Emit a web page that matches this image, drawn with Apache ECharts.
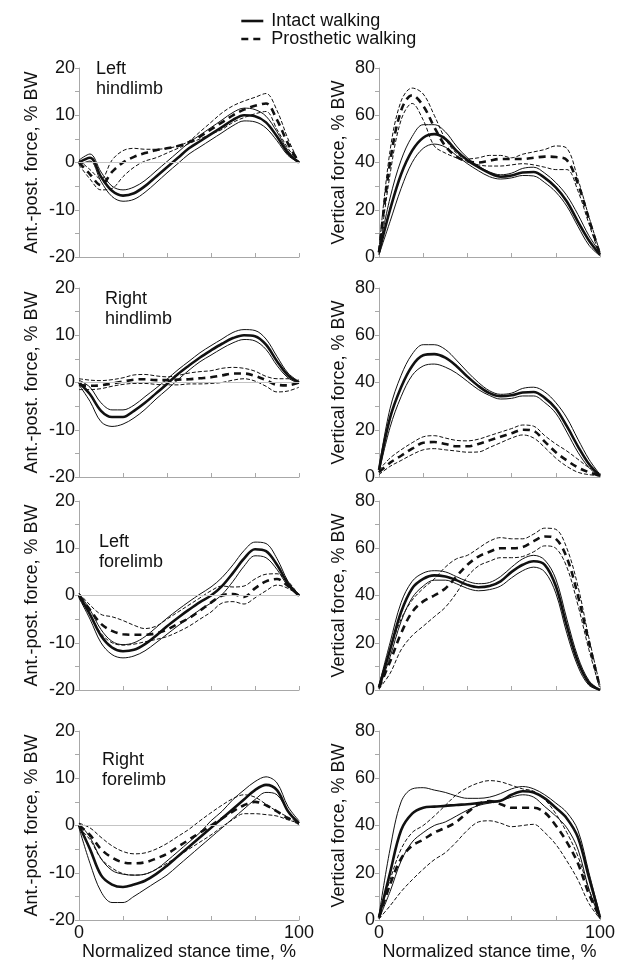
<!DOCTYPE html>
<html>
<head>
<meta charset="utf-8">
<script src="https://cdn.jsdelivr.net/npm/echarts@6/dist/echarts.min.js"></script>
<style>
  html, body { margin: 0; padding: 0; background: #fff; }
  #chart { width: 636px; height: 980px; }
</style>
</head>
<body>
<div id="chart"></div>
<script>
/* Normalized stance time, % (shared x samples) */
const STANCE = [0, 5, 10, 15, 20, 25, 30, 35, 40, 45, 50, 55, 60, 65, 70, 75, 80, 85, 90, 95, 100];

/* Left hindlimb, ant.-post. force (% BW): mean, mean+SD, mean-SD */
const lhApIntMean = [0, 1, -3, -6, -7, -6.5, -5, -3, -1, 1, 3, 4.5, 6, 7.5, 9, 10, 9.8, 8.5, 5.5, 2, 0];
const lhApIntUp   = [0.5, 1.8, -2, -5, -5.8, -5.2, -3.8, -1.8, 0.2, 2.2, 4.2, 5.8, 7.4, 9, 10.6, 11.5, 11.2, 9.8, 6.5, 2.5, 0];
const lhApIntLo   = [-0.5, 0.3, -4, -7.2, -8.2, -7.8, -6.3, -4.3, -2.2, -0.2, 1.8, 3.3, 4.8, 6.3, 7.8, 8.8, 8.6, 7.3, 4.6, 1.5, 0];
const lhApProMean = [0, -2.5, -4.8, -2, 0, 1.2, 2, 2.6, 3, 3.5, 4.3, 5.5, 7, 8.5, 10, 11.2, 12, 12.5, 9, 4, 0];
const lhApProUp   = [0.5, -1.5, -3.5, 0.5, 2.5, 3, 2.8, 2.8, 3, 3.5, 4.5, 6.5, 8.5, 10.5, 12, 13, 13.8, 14.6, 11, 5, 0];
const lhApProLo   = [-0.5, -3.5, -5.8, -5.5, -3, -1, 0.3, 1, 2, 3, 4, 5, 6, 7, 8.5, 9.5, 10.3, 10.8, 7, 3, 0];

/* Left hindlimb, vertical force (% BW) */
const lhVtIntMean = [2, 20, 35, 45, 50.5, 52, 50, 45, 41, 38, 35.5, 34, 34.5, 35.8, 36, 33.5, 29.5, 23.5, 15, 7, 1];
const lhVtIntUp   = [3, 25, 41, 51, 56, 56, 53, 47, 42, 38.5, 36, 34.8, 35.5, 37.5, 38, 35.5, 31.5, 26, 18, 9, 2];
const lhVtIntLo   = [1, 15, 29, 40, 46, 47.8, 46.5, 43, 39.5, 36.5, 34, 33, 33.5, 34.5, 34.3, 31.5, 27.5, 21.5, 13, 5, 0.5];
const lhVtProMean = [2, 40, 62, 68.5, 64, 55, 47, 42.5, 40.5, 40, 40.8, 41.5, 41.5, 41.5, 42, 42.5, 42.3, 41, 31, 16, 1];
const lhVtProUp   = [3, 45, 66, 71.5, 69, 60, 50, 44, 41.5, 42, 43, 43, 42, 43.5, 44.5, 45.5, 47, 46, 33, 17, 2];
const lhVtProLo   = [1, 35, 58, 65, 58, 47, 44, 42, 40.5, 39, 38.5, 38.5, 39, 39.5, 39, 38, 37, 37, 28, 14, 0.5];

/* Right hindlimb, ant.-post. force (% BW) */
const rhApIntMean = [0, -2.5, -6, -7.3, -7.3, -6, -4.3, -2.3, -0.3, 1.8, 3.6, 5.3, 6.8, 8.2, 9.4, 10, 9.8, 8, 4.5, 1.5, 0];
const rhApIntUp   = [0.5, -1, -4.3, -5.8, -5.8, -4.8, -3, -1.2, 0.7, 2.7, 4.5, 6.3, 7.8, 9.2, 10.6, 11.2, 11, 9.2, 5.5, 2, 0.2];
const rhApIntLo   = [-0.5, -4, -8.3, -9.3, -8.8, -7.5, -5.7, -3.5, -1.5, 0.6, 2.6, 4.4, 5.8, 7.2, 8.4, 9.1, 8.8, 7, 3.6, 1, -0.2];
const rhApProMean = [-0.5, -0.7, -0.6, -0.2, 0.2, 0.6, 0.7, 0.5, 0.5, 0.6, 0.7, 0.9, 1.1, 1.5, 1.9, 1.9, 1.4, 0.5, -0.5, -0.6, 0];
const rhApProUp   = [0.8, 0.5, 0.4, 0.6, 1, 1.6, 1.7, 1.4, 1.2, 1.5, 2, 2.3, 2.5, 3, 3.2, 3, 2.4, 1.3, 0.8, 0.8, 0.5];
const rhApProLo   = [-1.5, -1.5, -1.3, -0.8, -0.4, -0.2, -0.2, -0.4, -0.5, -0.5, -0.3, -0.3, -0.2, 0, 0.5, 0.8, 0.3, -0.8, -2, -1.8, -1];

/* Right hindlimb, vertical force (% BW) */
const rhVtIntMean = [3, 25, 38, 47, 51.5, 52, 50.5, 47, 42.5, 38.5, 35.5, 34.2, 34.6, 35.8, 36, 33.5, 29, 21.5, 13, 5.5, 0.5];
const rhVtIntUp   = [4, 29, 43, 52, 56, 56, 54, 49.5, 44.5, 40, 36.5, 35, 35.5, 37.5, 38, 36, 31.5, 25, 16, 7.5, 1];
const rhVtIntLo   = [2, 21, 34, 43, 47, 47.8, 46.5, 44, 40.5, 37, 34.5, 33, 33.3, 34.3, 34.3, 31.5, 27, 19, 10.5, 4, 0];
const rhVtProMean = [2, 6, 9, 12, 14.5, 14.8, 14, 13, 13, 14, 15.5, 17, 18.5, 20, 19.5, 15, 10.5, 7, 4, 2, 0.5];
const rhVtProUp   = [3, 8, 11.5, 14.5, 17, 17.5, 16.5, 15.5, 15.3, 16, 17.5, 19, 20.5, 22, 21.5, 17.5, 14, 11, 7.5, 4, 1.5];
const rhVtProLo   = [1, 4.5, 7, 9.5, 11.5, 12, 11.5, 11, 10.5, 10.6, 12.5, 14.5, 16.5, 17.8, 16.5, 12.5, 8, 4.5, 2, 1, 0.5];

/* Left forelimb, ant.-post. force (% BW) */
const lfApIntMean = [0, -4, -8.5, -11, -11.8, -11.5, -10.3, -8.5, -6.5, -4.7, -3, -1.4, 0, 2, 4.8, 7.8, 9.8, 9.4, 6.5, 2.5, 0];
const lfApIntUp   = [0.5, -3, -7.2, -9.7, -10.4, -10, -8.7, -6.8, -4.8, -3, -1.3, 0.3, 1.8, 3.8, 6.5, 9.5, 11.3, 11, 7.8, 3, 0];
const lfApIntLo   = [-0.5, -5, -10, -12.5, -13.2, -12.8, -11.7, -10, -8.2, -6.4, -4.7, -3, -1.6, 0.2, 3, 6.2, 8.4, 8, 5.5, 2, 0];
const lfApProMean = [0, -3, -6, -7.5, -8.2, -8.3, -8.3, -8, -7.2, -6, -4.8, -3.2, -1.5, 0, 0.3, -0.3, 1.5, 3, 3.5, 2, 0];
const lfApProUp   = [0.5, -2, -4, -4.5, -5.3, -6.3, -7, -6.5, -5, -3.5, -2, -0.5, 1, 2, 1.8, 2, 3.5, 4.5, 4.6, 3, 0];
const lfApProLo   = [-0.5, -4, -8, -10, -10.5, -10.3, -9.8, -9.3, -8.7, -7.7, -6.5, -5, -3.5, -1.6, -1.3, -1.8, -0.5, 1, 2.2, 1.5, 0];

/* Left forelimb, vertical force (% BW) */
const lfVtIntMean = [1, 17, 33, 43, 47, 48.5, 48, 46.5, 44.5, 43.5, 44, 46, 50, 53, 54.5, 53, 44, 27, 12, 3, 0];
const lfVtIntUp   = [2, 20, 37, 46, 49.5, 50.5, 50, 48, 46, 45, 45.5, 48, 52, 55.5, 57, 55, 47, 30, 14, 4, 0];
const lfVtIntLo   = [0.5, 14, 29, 39, 44, 46.5, 46.5, 45, 43, 42, 42.5, 44, 47.5, 50.5, 52, 50, 41, 24, 10, 2, 0];
const lfVtProMean = [1, 12, 24, 33, 37.5, 40, 43, 48, 53, 56.5, 58.5, 60, 60, 60.5, 63, 65, 64, 56, 40, 20, 1];
const lfVtProUp   = [2, 17, 30, 38, 43, 47, 52, 55.5, 57, 60, 63, 64.5, 64, 64, 66, 68.5, 68, 60, 44, 22, 2];
const lfVtProLo   = [0.5, 7, 17, 23, 27, 31, 35, 41, 48, 52.5, 54.5, 56, 56, 56.5, 58.5, 61, 60, 52, 36, 17, 0.5];

/* Right forelimb, ant.-post. force (% BW) */
const rfApIntMean = [0, -5, -10.5, -12.5, -13, -12.5, -11.7, -10.3, -8.5, -6.5, -4.5, -2.5, -0.5, 1.5, 3.5, 5.5, 7.5, 8.6, 7.5, 3, 0.5];
const rfApIntUp   = [0.5, -2.5, -7, -9.5, -10.3, -10.5, -10.3, -9.3, -7.5, -5.5, -3.5, -1.5, 1, 3, 5.5, 7.5, 9.3, 10.3, 9, 4, 1];
const rfApIntLo   = [-0.5, -8, -14, -16.3, -16.3, -15, -13.5, -12, -10.5, -8.5, -6.5, -4.5, -2.5, -0.5, 1.5, 3.5, 5.5, 7, 6.5, 3, 0];
const rfApProMean = [0, -2, -5, -6.8, -7.8, -8, -7.8, -7, -6, -4.5, -3, -1.5, 0, 1.5, 3, 4.3, 5, 4.3, 3, 1.5, 0.5];
const rfApProUp   = [0.5, -0.5, -2.5, -4.3, -5.5, -6, -5.8, -5, -3.8, -2.3, -0.8, 1, 2.7, 4.3, 5.7, 6.5, 6, 4.5, 3, 1.8, 0.5];
const rfApProLo   = [-0.5, -3, -7, -9, -10.2, -10.5, -10.3, -9.3, -8, -6.5, -5, -3.5, -2, -0.3, 1.3, 2.5, 2.5, 2.3, 2, 1.2, 0.5];

/* Right forelimb, vertical force (% BW) */
const rfVtIntMean = [1, 20, 38, 45, 47.5, 48, 48.3, 48.7, 49, 49.5, 50, 50.5, 53, 54.5, 54, 51.5, 47.5, 43, 35, 18, 1];
const rfVtIntUp   = [2, 30, 50, 55.5, 56, 55, 54, 52.5, 51.5, 51.5, 52, 53.5, 55.5, 56.5, 55.5, 53, 49.5, 45.5, 38, 20, 2];
const rfVtIntLo   = [0.5, 12, 25, 33, 37, 40, 41.5, 44, 46.5, 48.5, 49.5, 50.5, 52, 53, 52, 48, 44, 39, 30, 13, 0.5];
const rfVtProMean = [1, 15, 26, 31.5, 34, 37, 39, 41.5, 45.5, 49, 50.3, 49, 47.5, 47.5, 47.5, 45.5, 40, 33, 24, 11, 1];
const rfVtProUp   = [2, 17, 30, 37, 40, 44, 48.5, 53, 56, 58, 59, 58.5, 57, 55.5, 54.5, 51, 45, 37, 27, 13, 1.5];
const rfVtProLo   = [0.5, 6, 12, 17, 21.5, 25.5, 28.5, 33, 38, 41.5, 42, 41, 39.5, 40, 40.5, 37, 32, 25, 17, 7, 0.5];

/* Axis tick labels */
const AP_TICKS = [-20, -10, 0, 10, 20];
const VT_TICKS = [0, 20, 40, 60, 80];
const X_TICKS = [0, 100];

const FONT = "Arial, 'Liberation Sans', Helvetica, sans-serif";
const INK = "#111";
const AXIS_GRAY = "#a8a8a8";

/* Panel layout: label, ap|vt, column, row, intact (mean, up, lo), prosthetic (mean, up, lo) */
const panels = [
  { label: "Left\nhindlimb", kind: "ap", col: 0, row: 0, intact: [lhApIntMean, lhApIntUp, lhApIntLo], pros: [lhApProMean, lhApProUp, lhApProLo], lx: 96, ly: 59 },
  { label: "", kind: "vt", col: 1, row: 0, intact: [lhVtIntMean, lhVtIntUp, lhVtIntLo], pros: [lhVtProMean, lhVtProUp, lhVtProLo] },
  { label: "Right\nhindlimb", kind: "ap", col: 0, row: 1, intact: [rhApIntMean, rhApIntUp, rhApIntLo], pros: [rhApProMean, rhApProUp, rhApProLo], lx: 105, ly: 289 },
  { label: "", kind: "vt", col: 1, row: 1, intact: [rhVtIntMean, rhVtIntUp, rhVtIntLo], pros: [rhVtProMean, rhVtProUp, rhVtProLo] },
  { label: "Left\nforelimb", kind: "ap", col: 0, row: 2, intact: [lfApIntMean, lfApIntUp, lfApIntLo], pros: [lfApProMean, lfApProUp, lfApProLo], lx: 99, ly: 532 },
  { label: "", kind: "vt", col: 1, row: 2, intact: [lfVtIntMean, lfVtIntUp, lfVtIntLo], pros: [lfVtProMean, lfVtProUp, lfVtProLo] },
  { label: "Right\nforelimb", kind: "ap", col: 0, row: 3, intact: [rfApIntMean, rfApIntUp, rfApIntLo], pros: [rfApProMean, rfApProUp, rfApProLo], lx: 102, ly: 750 },
  { label: "", kind: "vt", col: 1, row: 3, intact: [rfVtIntMean, rfVtIntUp, rfVtIntLo], pros: [rfVtProMean, rfVtProUp, rfVtProLo] },
];

const COL_LEFT = [79, 379];
const COL_WIDTH = [220, 221];
const ROW_TOP = [68, 288, 501, 731];
const ROW_HEIGHT = 189;

function zip(values) {
  return STANCE.map(function (x, i) { return [x, values[i]]; });
}

const grids = [];
const xAxes = [];
const yAxes = [];
const series = [];
const labels = [];

panels.forEach(function (p, i) {
  const isAp = p.kind === "ap";
  const isBottom = p.row === 3;
  grids.push({ left: COL_LEFT[p.col], top: ROW_TOP[p.row], width: COL_WIDTH[p.col], height: ROW_HEIGHT });

  xAxes.push({
    gridIndex: i, type: "value", min: 0, max: 100, interval: 20,
    axisLine: { onZero: false, lineStyle: { color: AXIS_GRAY, width: 1 } },
    axisTick: { inside: true, length: 4, lineStyle: { color: AXIS_GRAY } },
    splitLine: { show: false },
    axisLabel: {
      show: isBottom, margin: 4, color: INK, fontSize: 18, fontFamily: FONT,
      formatter: function (v) { return X_TICKS.indexOf(v) >= 0 ? String(v) : ""; },
    },
    name: isBottom ? "Normalized stance time, %" : "",
    nameLocation: "middle", nameGap: 21,
    nameTextStyle: { color: INK, fontSize: 18, fontFamily: FONT },
  });

  const ticks = isAp ? AP_TICKS : VT_TICKS;
  yAxes.push({
    gridIndex: i, type: "value",
    min: isAp ? -20 : 0, max: isAp ? 20 : 80, interval: isAp ? 5 : 10,
    axisLine: { show: true, lineStyle: { color: AXIS_GRAY, width: 1 } },
    axisTick: { show: true, length: 4, lineStyle: { color: AXIS_GRAY } },
    splitLine: { show: false },
    axisLabel: {
      margin: 4, color: INK, fontSize: 18, fontFamily: FONT,
      formatter: function (v) { return ticks.indexOf(v) >= 0 ? String(v) : ""; },
    },
    name: isAp ? "Ant.-post. force, % BW" : "Vertical force, % BW",
    nameLocation: "middle", nameRotate: 90, nameGap: isAp ? 38 : 31,
    nameTextStyle: { color: INK, fontSize: 18, fontFamily: FONT },
  });

  const groups = [
    { name: "Intact walking", lines: p.intact, thick: "solid", thin: "solid" },
    { name: "Prosthetic walking", lines: p.pros, thick: [7, 5], thin: [4, 2] },
  ];
  groups.forEach(function (g) {
    g.lines.forEach(function (vals, k) {
      series.push({
        name: g.name, type: "line", xAxisIndex: i, yAxisIndex: i,
        data: zip(vals), smooth: 0.35, showSymbol: false, symbol: "none",
        lineStyle: { color: INK, width: k === 0 ? 2.6 : 1, type: k === 0 ? g.thick : g.thin },
        itemStyle: { color: INK }, z: k === 0 ? 3 : 2,
      });
    });
  });

  /* zero reference line on the ant.-post. panels */
  if (isAp) {
    series.push({
      type: "line", xAxisIndex: i, yAxisIndex: i, data: [], silent: true,
      markLine: {
        silent: true, symbol: "none", label: { show: false },
        lineStyle: { color: "#c4c4c4", width: 1, type: "solid" },
        data: [{ yAxis: 0 }],
      },
    });
  }

  if (p.label) {
    labels.push({
      type: "text", left: p.lx, top: p.ly, silent: true,
      style: { text: p.label, fill: INK, fontSize: 18, fontFamily: FONT, lineHeight: 20 },
    });
  }
});

const chart = echarts.init(document.getElementById("chart"), null, { renderer: "canvas" });
chart.setOption({
  backgroundColor: "#fff",
  animation: false,
  textStyle: { fontFamily: FONT },
  legend: {
    data: ["Intact walking", "Prosthetic walking"],
    orient: "vertical", left: 235, top: 7,
    itemWidth: 22, itemHeight: 10, itemGap: 0,
    itemStyle: { color: "transparent", borderColor: "transparent", borderWidth: 0, opacity: 0 },
    lineStyle: { width: 2.6 },
    textStyle: { color: INK, fontSize: 18, fontFamily: FONT, lineHeight: 18, padding: [0, 0, 0, 3] },
    selectedMode: false,
  },
  grid: grids,
  xAxis: xAxes,
  yAxis: yAxes,
  series: series,
  graphic: labels,
});
</script>
</body>
</html>
